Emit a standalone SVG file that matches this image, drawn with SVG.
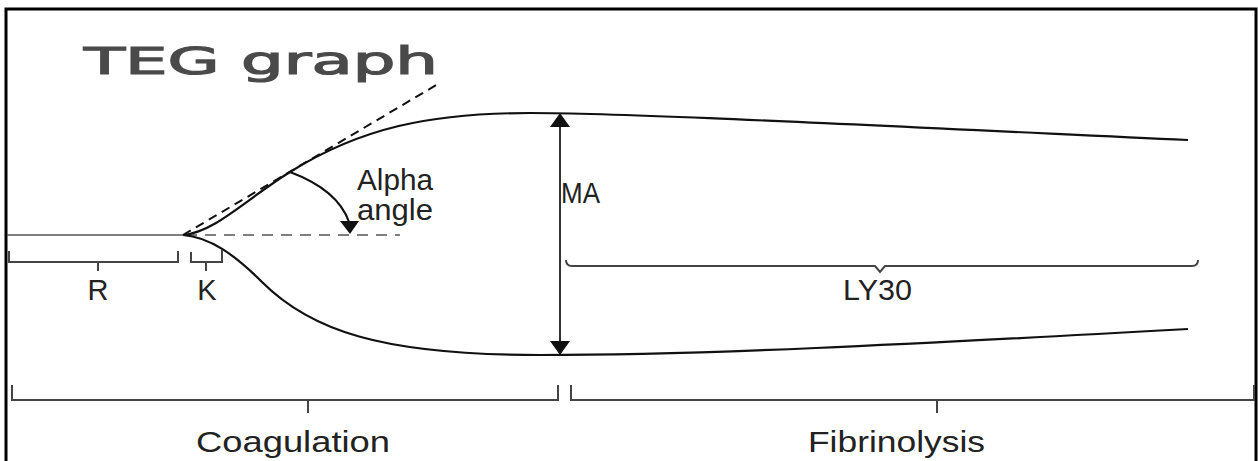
<svg xmlns="http://www.w3.org/2000/svg" width="1258" height="461" viewBox="0 0 1258 461">
<style>
.lbl{font-family:"Liberation Sans",Arial,sans-serif;font-size:29px;fill:#222}
.crv{fill:none;stroke:#111;stroke-width:2.2}
.brk{fill:none;stroke:#444;stroke-width:2}
.dash{fill:none;stroke:#111;stroke-width:2;stroke-dasharray:9 6}
.hdash{fill:none;stroke:#555;stroke-width:1.5;stroke-dasharray:11 8}
</style>
<rect x="0" y="0" width="1258" height="461" fill="#fff"/>
<rect x="6" y="9" width="1250" height="470" fill="none" stroke="#000" stroke-width="3"/>
<g id="title"><text x="84" y="74" textLength="354" lengthAdjust="spacingAndGlyphs" style="font-family:'DejaVu Sans',Verdana,sans-serif;font-size:37px;fill:#4a4a4a;stroke:#4a4a4a;stroke-width:1.2">TEG graph</text></g>
<g id="connectors">
<line x1="7" y1="235" x2="184" y2="235" stroke="#555" stroke-width="1.5"/>
<line x1="186" y1="235" x2="400" y2="235" class="hdash"/>
<line x1="183" y1="235" x2="438" y2="84" class="dash"/>
<path class="crv" d="M183,235 C215,232 245,200 290,172 C360,128 430,113 530,113 C620,113 800,122 1188,140"/>
<path class="crv" d="M183,235 C210,237 235,255 262,282 C310,330 380,355 540,355 C700,355 900,345 1188,329"/>
<path class="crv" d="M290,172 Q338,190 349,222"/>
<polygon points="340,221 359,221 350,234" fill="#111"/>
<line x1="560" y1="125" x2="560" y2="343" stroke="#333" stroke-width="2"/>
<polygon points="560,113 550,127 570,127" fill="#111"/>
<polygon points="560,355 550,341 570,341" fill="#111"/>
</g>
<g id="R"><path class="brk" d="M9,251 V262 H178 V251 M98,262 V271"/><text class="lbl" x="98" y="300" text-anchor="middle">R</text></g>
<g id="K"><path class="brk" d="M191,252 V262 H222 V250 M206,262 V271"/><text class="lbl" x="207" y="300" text-anchor="middle">K</text></g>
<g id="alpha"><text class="lbl" x="357" y="190" textLength="76" lengthAdjust="spacingAndGlyphs">Alpha</text><text class="lbl" x="357" y="220" textLength="76" lengthAdjust="spacingAndGlyphs">angle</text></g>
<g id="MA"><text class="lbl" x="561" y="203" style="font-size:30px" textLength="39" lengthAdjust="spacingAndGlyphs">MA</text></g>
<g id="LY30"><path class="brk" d="M566,260 Q566,266 572,266 H875 L880,272 L885,266 H1192 Q1198,266 1198,260"/><text class="lbl" x="843" y="300" textLength="69" lengthAdjust="spacingAndGlyphs">LY30</text></g>
<g id="coag"><path class="brk" d="M12,385 V400 H558 V385 M308,400 V413"/><text class="lbl" x="196" y="452" textLength="194" lengthAdjust="spacingAndGlyphs">Coagulation</text></g>
<g id="fib"><path class="brk" d="M571,385 V400 H1254 V385 M937,400 V413"/><text class="lbl" x="808" y="452" textLength="177" lengthAdjust="spacingAndGlyphs">Fibrinolysis</text></g>
</svg>
